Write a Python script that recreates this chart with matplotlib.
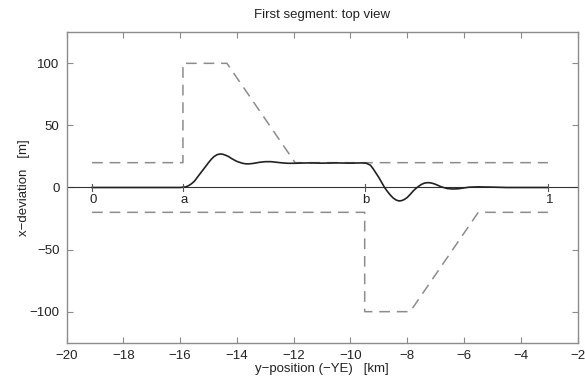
import matplotlib
matplotlib.use("Agg")
import matplotlib.pyplot as plt

# Dashed corridor boundaries
upper_x = [-19.1, -15.9, -15.9, -14.35, -11.95, -3.05]
upper_y = [20, 20, 100, 100, 20, 20]
lower_x = [-19.1, -9.5, -9.5, -7.9, -5.5, -3.05]
lower_y = [-20, -20, -100, -100, -20, -20]

# Deviation curve
curve_x = [-19.1, -16.0, -15.8, -15.7, -15.6, -15.5, -15.4, -15.3, -15.2, -15.1,
           -15.0, -14.9, -14.8, -14.7, -14.6, -14.5, -14.4, -14.3, -14.2, -14.1,
           -14.0, -13.9, -13.8, -13.7, -13.6, -13.5, -13.4, -13.2, -13.0, -12.8,
           -12.6, -12.4, -12.2, -12.0, -11.5, -11.0, -10.5, -10.0, -9.6, -9.45,
           -9.3, -9.2, -9.1, -9.0, -8.9, -8.8, -8.7, -8.6, -8.5, -8.4,
           -8.3, -8.2, -8.1, -8.0, -7.9, -7.8, -7.7, -7.6, -7.5, -7.4,
           -7.3, -7.2, -7.1, -7.0, -6.9, -6.8, -6.6, -6.4, -6.2, -6.0,
           -5.8, -5.5, -5.0, -4.5, -3.05]
curve_y = [0, 0, 0.5, 1.5, 3, 5, 8, 11, 14, 17,
           20, 22.8, 25, 26.4, 27, 26.8, 26, 25, 23.5, 22.2,
           21, 20.2, 19.5, 19.1, 19, 19.2, 19.5, 20.3, 20.8, 20.8,
           20.3, 19.8, 19.5, 19.5, 19.8, 19.6, 19.8, 19.6, 19.8, 19.6,
           18, 15, 11.5, 8, 4, 0, -3.2, -6, -8.4, -10,
           -10.8, -10.6, -9.6, -8, -5.6, -3, -0.8, 1, 2.5, 3.5,
           3.9, 3.8, 3.3, 2.5, 1.5, 0.5, -0.8, -1.2, -1.0, -0.3,
           0.3, 0.5, 0.3, 0, 0]

# Markers on the axis
mark_x = [-19.1, -15.9, -9.5, -3.05]
mark_labels = ["0", "a", "b", "1"]

xticks = [-20, -18, -16, -14, -12, -10, -8, -6, -4, -2]
yticks = [-100, -50, 0, 50, 100]

plt.rcParams['font.family'] = ['Liberation Sans', 'DejaVu Sans']
fig = plt.figure(figsize=(5.85, 3.83), dpi=100)
ax = fig.add_axes([0.1137, 0.1052, 0.8738, 0.8105])

gray = '#8c8c8c'
ax.plot(upper_x, upper_y, ls=(0, (7, 4.5)), color=gray, lw=1.1)
ax.plot(lower_x, lower_y, ls=(0, (7, 4.5)), color=gray, lw=1.1)
ax.axhline(0, color='#333333', lw=0.8)
ax.plot(curve_x, curve_y, color='#222222', lw=1.2)

for mx, ml in zip(mark_x, mark_labels):
    ax.plot([mx, mx], [-3, 3], color='#555555', lw=0.8)
    ax.text(mx + 0.05, -5, ml, ha='center', va='top', fontsize=9.5, color='#222222')

ax.set_xlim(-20, -2)
ax.set_ylim(-125, 125)
ax.set_xticks(xticks)
ax.set_yticks(yticks)
ax.set_xticklabels(["\u2212%d" % abs(v) for v in xticks])
ax.set_yticklabels([("\u2212%d" % abs(v)) if v < 0 else "%d" % v for v in yticks])
ax.tick_params(direction='in', top=True, right=True, length=4, width=0.8,
               colors=gray, labelcolor='#222222', labelsize=9.5, pad=5)
for s in ax.spines.values():
    s.set_color(gray)
    s.set_linewidth(1.0)

ax.set_title("First segment: top view", fontsize=9.5, color='#222222', pad=10)
ax.set_xlabel("y\u2212position (\u2212YE)   [km]", fontsize=9.5, color='#222222', labelpad=1)
ax.set_ylabel("x\u2212deviation   [m]", fontsize=9.5, color='#222222', labelpad=0)

fig.savefig("out.png", dpi=100)
